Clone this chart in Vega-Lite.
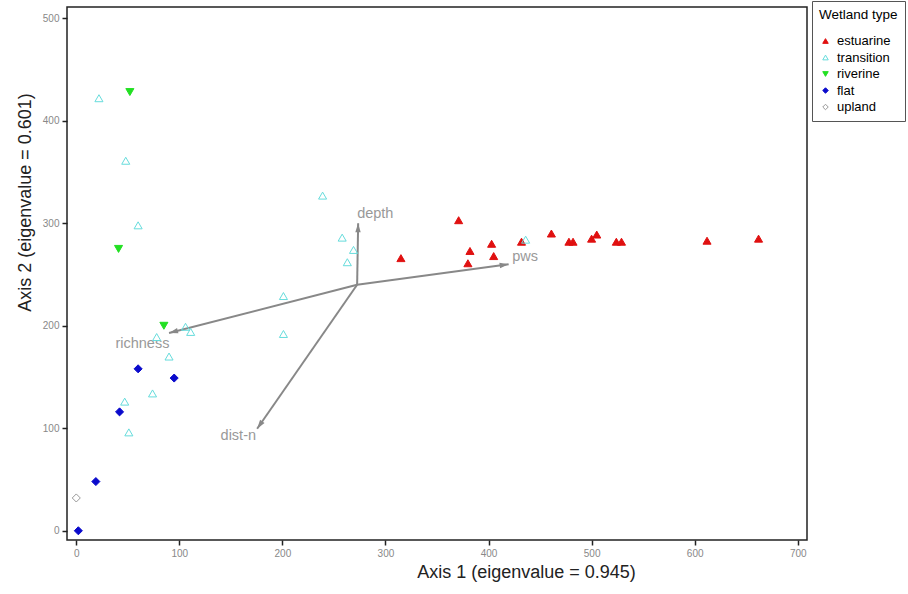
{
  "$schema": "https://vega.github.io/schema/vega-lite/v6.json",
  "width": 740,
  "height": 533,
  "autosize": {"type": "none"},
  "padding": {"left": 67, "top": 7, "right": 101, "bottom": 54},
  "background": "white",
  "config": {
    "font": "Liberation Sans",
    "view": {"stroke": "#222", "strokeWidth": 1.5},
    "axis": {
      "grid": false, "domain": false,
      "tickColor": "#222", "tickSize": 5, "tickWidth": 1.5, "labelFontSize": 10, "labelColor": "#888", "labelPadding": 3,
      "titleFontSize": 18, "titleFontWeight": "normal", "titleColor": "#222"
    },
    "legend": {
      "orient": "none", "legendX": 745, "legendY": -6,
      "strokeColor": "#555", "padding": 7, "fillColor": "white",
      "titleFontSize": 13.5, "titleFontWeight": "normal", "titleColor": "#000",
      "labelFontSize": 13, "labelColor": "#000", "symbolSize": 30,
      "rowPadding": 2.5, "titlePadding": 13, "symbolStrokeWidth": 1, "labelOffset": 5
    }
  },
  "datasets": {
    "sites": [
      {"type": "estuarine", "a1": 315, "a2": 266},
      {"type": "estuarine", "a1": 371, "a2": 303},
      {"type": "estuarine", "a1": 382, "a2": 273},
      {"type": "estuarine", "a1": 380, "a2": 261},
      {"type": "estuarine", "a1": 403, "a2": 280},
      {"type": "estuarine", "a1": 405, "a2": 268},
      {"type": "estuarine", "a1": 432, "a2": 282},
      {"type": "estuarine", "a1": 461, "a2": 290},
      {"type": "estuarine", "a1": 478, "a2": 282},
      {"type": "estuarine", "a1": 482, "a2": 282},
      {"type": "estuarine", "a1": 500, "a2": 285},
      {"type": "estuarine", "a1": 505, "a2": 289},
      {"type": "estuarine", "a1": 524, "a2": 282},
      {"type": "estuarine", "a1": 529, "a2": 282},
      {"type": "estuarine", "a1": 612, "a2": 283},
      {"type": "estuarine", "a1": 662, "a2": 285},
      {"type": "transition", "a1": 22, "a2": 422},
      {"type": "transition", "a1": 48, "a2": 361},
      {"type": "transition", "a1": 60, "a2": 298},
      {"type": "transition", "a1": 239, "a2": 327},
      {"type": "transition", "a1": 258, "a2": 286},
      {"type": "transition", "a1": 269, "a2": 274},
      {"type": "transition", "a1": 263, "a2": 262},
      {"type": "transition", "a1": 201, "a2": 229},
      {"type": "transition", "a1": 201, "a2": 192},
      {"type": "transition", "a1": 106, "a2": 199},
      {"type": "transition", "a1": 111, "a2": 194},
      {"type": "transition", "a1": 78, "a2": 189},
      {"type": "transition", "a1": 90, "a2": 170},
      {"type": "transition", "a1": 47, "a2": 126},
      {"type": "transition", "a1": 74, "a2": 134},
      {"type": "transition", "a1": 51, "a2": 96},
      {"type": "transition", "a1": 436, "a2": 284},
      {"type": "riverine", "a1": 52, "a2": 428},
      {"type": "riverine", "a1": 41, "a2": 275},
      {"type": "riverine", "a1": 85, "a2": 200},
      {"type": "flat", "a1": 60, "a2": 158},
      {"type": "flat", "a1": 95, "a2": 149},
      {"type": "flat", "a1": 42, "a2": 116},
      {"type": "flat", "a1": 19, "a2": 48},
      {"type": "flat", "a1": 2, "a2": 0},
      {"type": "upland", "a1": 0, "a2": 32}
    ],
    "vectors": [
      {"variable": "depth", "x0": 272.5, "y0": 240, "x1": 273.5, "y1": 300, "lx": 272.5, "ly": 309},
      {"variable": "pws", "x0": 272.5, "y0": 240, "x1": 419.5, "y1": 260, "lx": 423, "ly": 267},
      {"variable": "richness", "x0": 272.5, "y0": 240, "x1": 90, "y1": 193, "lx": 38, "ly": 182},
      {"variable": "dist-n", "x0": 272.5, "y0": 240, "x1": 175.5, "y1": 99.5, "lx": 140, "ly": 92}
    ]
  },
  "layer": [
    {
      "data": {"name": "vectors"},
      "mark": {"type": "rule", "color": "#888", "strokeWidth": 2},
      "encoding": {
        "x": {
          "field": "x0", "type": "quantitative",
          "scale": {"domain": [-9, 709], "nice": false, "zero": false},
          "axis": {
            "values": [0, 100, 200, 300, 400, 500, 600, 700],
            "title": "Axis 1 (eigenvalue = 0.945)",
            "titleX": 459, "titleY": 32, "titleAlign": "center", "titleBaseline": "middle"
          }
        },
        "y": {
          "field": "y0", "type": "quantitative",
          "scale": {"domain": [-9, 511], "nice": false, "zero": false},
          "axis": {
            "values": [0, 100, 200, 300, 400, 500],
            "title": "Axis 2 (eigenvalue = 0.601)",
            "titleX": -42, "titleY": 195, "titleAngle": -90, "titleAlign": "center", "titleBaseline": "middle"
          }
        },
        "x2": {"field": "x1"},
        "y2": {"field": "y1"}
      }
    },
    {
      "data": {"name": "vectors"},
      "transform": [{"filter": "datum.variable === 'depth'"}],
      "mark": {"type": "point", "shape": "M0,0L-0.3,1L0.3,1Z", "angle": 1, "size": 324, "filled": true, "color": "#888", "opacity": 1, "strokeWidth": 0},
      "encoding": {
        "x": {"field": "x1", "type": "quantitative"},
        "y": {"field": "y1", "type": "quantitative"}
      }
    },
    {
      "data": {"name": "vectors"},
      "transform": [{"filter": "datum.variable === 'pws'"}],
      "mark": {"type": "point", "shape": "M0,0L-0.3,1L0.3,1Z", "angle": 82, "size": 324, "filled": true, "color": "#888", "opacity": 1, "strokeWidth": 0},
      "encoding": {
        "x": {"field": "x1", "type": "quantitative"},
        "y": {"field": "y1", "type": "quantitative"}
      }
    },
    {
      "data": {"name": "vectors"},
      "transform": [{"filter": "datum.variable === 'richness'"}],
      "mark": {"type": "point", "shape": "M0,0L-0.3,1L0.3,1Z", "angle": 255.6, "size": 324, "filled": true, "color": "#888", "opacity": 1, "strokeWidth": 0},
      "encoding": {
        "x": {"field": "x1", "type": "quantitative"},
        "y": {"field": "y1", "type": "quantitative"}
      }
    },
    {
      "data": {"name": "vectors"},
      "transform": [{"filter": "datum.variable === 'dist-n'"}],
      "mark": {"type": "point", "shape": "M0,0L-0.3,1L0.3,1Z", "angle": 214.8, "size": 324, "filled": true, "color": "#888", "opacity": 1, "strokeWidth": 0},
      "encoding": {
        "x": {"field": "x1", "type": "quantitative"},
        "y": {"field": "y1", "type": "quantitative"}
      }
    },
    {
      "data": {"name": "vectors"},
      "mark": {"type": "text", "align": "left", "baseline": "middle", "fontSize": 14.5, "color": "#999"},
      "encoding": {
        "x": {"field": "lx", "type": "quantitative"},
        "y": {"field": "ly", "type": "quantitative"},
        "text": {"field": "variable"}
      }
    },
    {
      "data": {"name": "sites"},
      "mark": {"type": "point", "size": 65, "opacity": 1, "strokeWidth": 1},
      "encoding": {
        "x": {"field": "a1", "type": "quantitative"},
        "y": {"field": "a2", "type": "quantitative"},
        "shape": {
          "field": "type", "type": "nominal", "title": "Wetland type",
          "scale": {"domain": ["estuarine", "transition", "riverine", "flat", "upland"], "range": ["triangle-up", "triangle-up", "triangle-down", "diamond", "diamond"]}
        },
        "fill": {
          "field": "type", "type": "nominal", "title": "Wetland type",
          "scale": {"domain": ["estuarine", "transition", "riverine", "flat", "upland"], "range": ["#e01010", "transparent", "#22e022", "#0a0acc", "transparent"]}
        },
        "stroke": {
          "field": "type", "type": "nominal", "title": "Wetland type",
          "scale": {"domain": ["estuarine", "transition", "riverine", "flat", "upland"], "range": ["#e01010", "#66dcdc", "#22e022", "#0a0acc", "#999999"]}
        }
      }
    }
  ]
}
